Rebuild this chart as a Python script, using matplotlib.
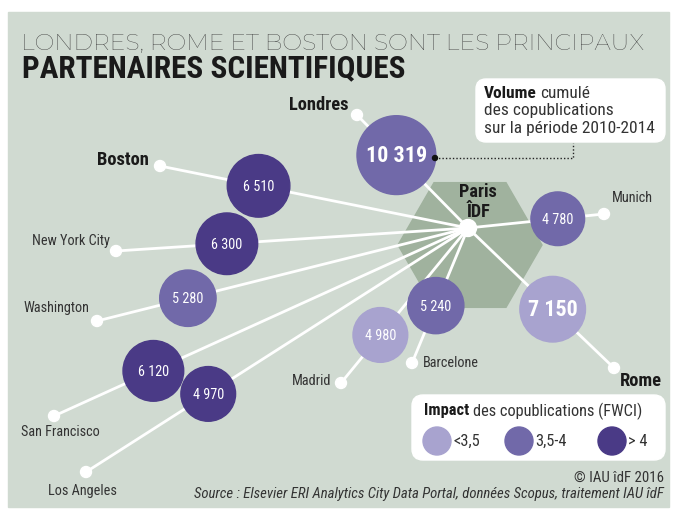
import numpy as np
import matplotlib
matplotlib.use('Agg')
import matplotlib.pyplot as plt
from matplotlib import font_manager
from matplotlib.patches import Circle, Rectangle, RegularPolygon, FancyBboxPatch

# data
cities = ['Londres', 'Munich', 'Boston', 'New York City', 'Washington',
          'San Francisco', 'Los Angeles', 'Madrid', 'Barcelone', 'Rome']
volumes = [10319, 4780, 6510, 6300, 5280, 6120, 4970, 4980, 5240, 7150]
impact = [1, 1, 2, 2, 1, 2, 2, 0, 1, 0]   # 0: <3,5  1: 3,5-4  2: > 4
impact_labels = ['<3,5', '3,5-4', '> 4']
major = ['Londres', 'Boston', 'Rome']

# layout (pixels)
paris = (468, 228)
end_x = [357, 604, 160, 116, 97, 54, 86, 341, 412, 614]
end_y = [115, 214, 166, 251, 321, 416, 472, 383, 363, 368]
frac = [0.645, 0.66, 0.68, 0.685, 0.755, 0.76, 0.68, 0.69, 0.575, 0.58]
lab_x = [349, 612, 149, 110, 89, 60, 82, 331, 423, 620]
lab_y = [105, 198, 160, 241, 308, 432, 491, 381, 363, 381]
lab_ha = ['right', 'left', 'right', 'right', 'right', 'center', 'center', 'right', 'left', 'left']

colors = ['#a8a3cf', '#7169a9', '#4a3a86']
bg = '#d0dad1'

names = {f.name for f in font_manager.fontManager.ttflist}
def pick(cands):
    return [c for c in cands if c in names] + ['DejaVu Sans']

NARROW = pick(['Roboto Condensed', 'Archivo Narrow', 'Barlow Semi Condensed', 'Asap Condensed'])
HEAVY = pick(['Roboto Condensed', 'Barlow Semi Condensed', 'Archivo Narrow'])
THIN = pick(['Montserrat', 'Raleway', 'Roboto'])

fig = plt.figure(figsize=(6.77, 5.17), dpi=100)
ax = fig.add_axes([0, 0, 1, 1])
ax.set_xlim(0, 677)
ax.set_ylim(517, 0)
ax.axis('off')
renderer = fig.canvas.get_renderer()

def width(t):
    return t.get_window_extent(renderer).width

def fit(t, target):
    t.set_fontsize(t.get_fontsize() * target / width(t))

ax.add_patch(Rectangle((8, 12), 661, 495, color=bg, zorder=0))
ax.add_patch(RegularPolygon((470, 245), 6, radius=72, orientation=np.pi / 6,
                            color='#a0b29e', zorder=1))

# title
t1 = ax.text(21, 50, 'LONDRES, ROME ET BOSTON SONT LES PRINCIPAUX', fontsize=18,
             family=THIN, weight=200, color='#3a3a3a')
fit(t1, 624)
t2 = ax.text(22, 77, 'PARTENAIRES SCIENTIFIQUES', fontsize=19,
             family=HEAVY, weight='heavy', color='#1a1a1a')
fit(t2, 383)

# size that makes 'New York City' ~78 px wide
probe = ax.text(0, 0, 'New York City', family=NARROW, fontsize=12)
fs = 12 * 78 / width(probe)
probe.remove()

# links
for i, c in enumerate(cities):
    ax.plot([paris[0], end_x[i]], [paris[1], end_y[i]], color='white', lw=2, zorder=2,
            solid_capstyle='round')
    ax.add_patch(Circle((end_x[i], end_y[i]), 5.5, color='white', zorder=3))
ax.add_patch(Circle(paris, 8.5, color='white', zorder=3))

for i, c in enumerate(cities):
    cx = paris[0] + frac[i] * (end_x[i] - paris[0])
    cy = paris[1] + frac[i] * (end_y[i] - paris[1])
    r = 0.388 * np.sqrt(volumes[i])
    ax.add_patch(Circle((cx, cy), r, color=colors[impact[i]], zorder=4))
    big = volumes[i] > 7000
    txt = '{:,}'.format(volumes[i]).replace(',', ' ')
    ax.text(cx, cy + 1, txt, ha='center', va='center', color='white', zorder=5,
            family=NARROW, fontsize=fs * 1.55 if big else fs,
            weight='bold' if big else 'normal')
    if c in major:
        ax.text(lab_x[i], lab_y[i], c, ha=lab_ha[i], va='center', family=HEAVY,
                fontsize=fs * 1.3, weight='bold', color='#1a1a1a', zorder=5)
    else:
        ax.text(lab_x[i], lab_y[i], c, ha=lab_ha[i], va='center', family=NARROW,
                fontsize=fs, color='#333333', zorder=5)

ax.text(478, 192, 'Paris', ha='center', va='center', family=HEAVY, fontsize=fs * 1.28,
        weight='bold', color='#1a1a1a', zorder=5)
ax.text(478, 212, 'ÎDF', ha='center', va='center', family=HEAVY, fontsize=fs * 1.28,
        weight='bold', color='#1a1a1a', zorder=5)

def rich(x, y, bold, rest, size):
    b = ax.text(x, y, bold, family=HEAVY, fontsize=size, weight='bold', va='center',
                color='#1a1a1a', zorder=6)
    ax.text(x + width(b) + size * 0.3, y, rest, family=NARROW, fontsize=size, va='center',
            color='#333333', zorder=6)

# volume callout
ax.add_patch(FancyBboxPatch((476, 79), 189, 63, boxstyle='round,pad=0,rounding_size=10',
                            color='white', zorder=5))
box_fs = fs * 1.22
rich(484, 94, 'Volume', 'cumulé', box_fs)
ax.text(484, 111, 'des copublications', family=NARROW, fontsize=box_fs, va='center',
        zorder=6, color='#333333')
ax.text(484, 128, 'sur la période 2010-2014', family=NARROW, fontsize=box_fs,
        va='center', zorder=6, color='#333333')
ax.plot([435, 573, 573], [158, 158, 143], color='#222222', lw=1, ls=(0, (1, 1.5)), zorder=5)
ax.add_patch(Circle((435, 158), 2.5, color='#111111', zorder=6))

# impact legend
leg_fs = fs * 1.15
ax.add_patch(FancyBboxPatch((412, 395), 253, 65, boxstyle='round,pad=0,rounding_size=11',
                            color='white', zorder=5))
rich(424, 411, 'Impact', 'des copublications (FWCI)', leg_fs)
leg_x = [437, 519, 612]
for k in range(3):
    ax.add_patch(Circle((leg_x[k], 441), 14, color=colors[k], zorder=6))
    ax.text(leg_x[k] + 16, 441, impact_labels[k], family=NARROW, fontsize=leg_fs,
            va='center', color='#333333', zorder=6)

ax.text(664, 478, '© IAU îdF 2016', ha='right', va='center', family=NARROW,
        fontsize=fs * 1.05, color='#333333')
src = ax.text(664, 494, 'Source : Elsevier ERI Analytics City Data Portal, données Scopus, '
              'traitement IAU îdF', ha='right', va='center', family=NARROW,
              fontsize=fs, style='italic', color='#333333')
fit(src, 470)

fig.savefig('out.png', dpi=100)
